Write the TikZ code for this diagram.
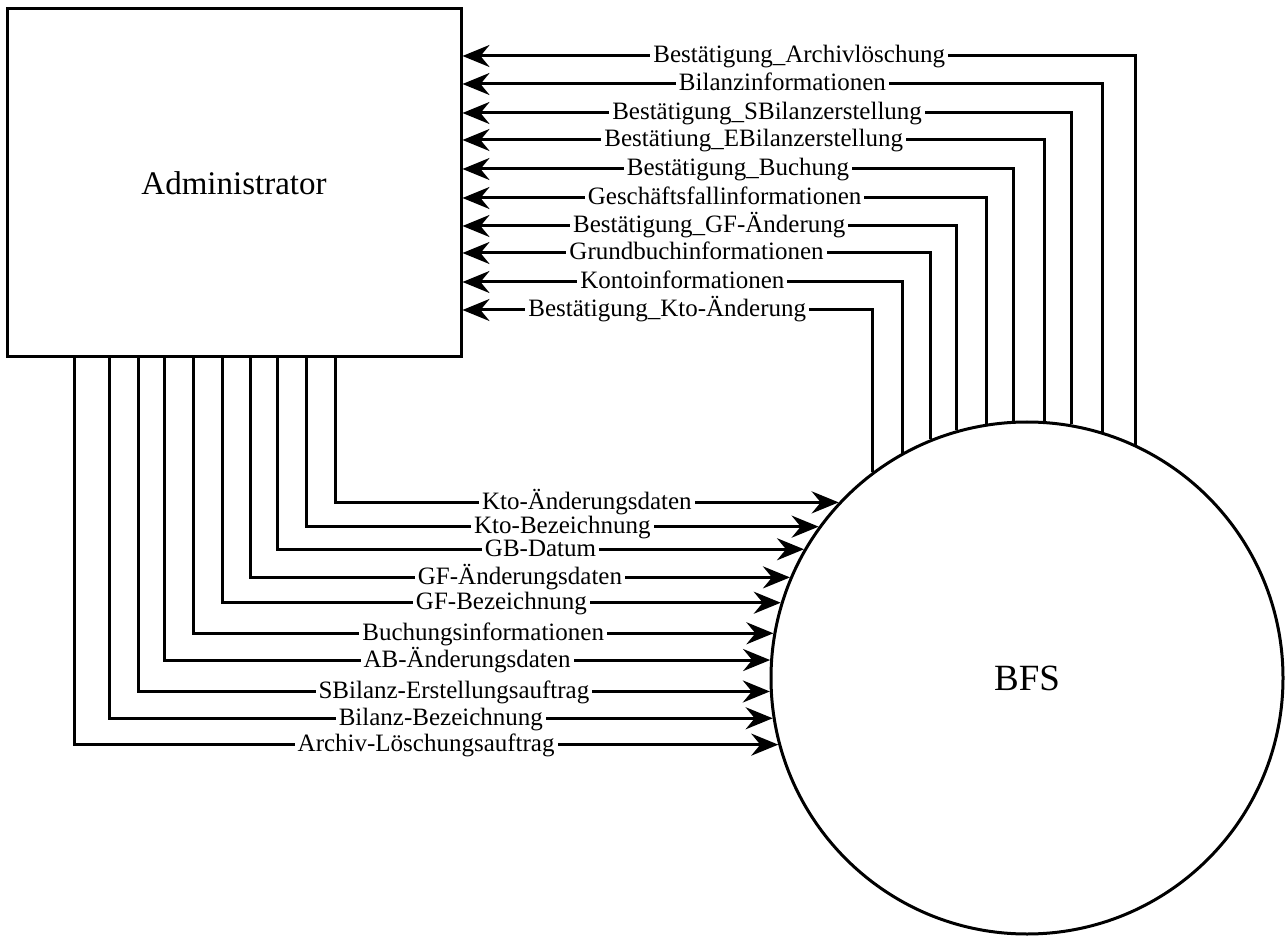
\documentclass[tikz,border=0pt]{standalone}
\usepackage{fontspec}
\setmainfont{Liberation Serif}
\usetikzlibrary{arrows.meta}
\tikzset{
  flow/.style={line width=1.5pt,-{Stealth[length=13.5pt,width=11pt,inset=4.5pt]}},
  lbl/.style={fill=white,inner xsep=1.5pt,inner ysep=0pt,text height=9pt,text depth=2pt,font=\fontsize{12.5}{14}\selectfont}
}
\begin{document}
\begin{tikzpicture}[x=0.5pt,y=-0.5pt]
\useasboundingbox (0,0) rectangle (1286,936);
\node[draw,line width=1.5pt,minimum width=227pt,minimum height=174pt,font=\fontsize{16.5}{20}\selectfont] (adm) at (234,183) {Administrator};
\node[draw,circle,line width=1.5pt,minimum size=256pt,font=\fontsize{18.5}{22}\selectfont] (bfs) at (1027,678) {BFS};

\foreach \x/\y/\t in {1133/56/Bestätigung\_Archivlöschung,
  1099/84/Bilanzinformationen,
  1070/113/Bestätigung\_SBilanzerstellung,
  1042/140/Bestätiung\_EBilanzerstellung,
  1013/169/Bestätigung\_Buchung,
  984/198/Geschäftsfallinformationen,
  956/226/Bestätigung\_GF-Änderung,
  928/253/Grundbuchinformationen,
  900/282/Kontoinformationen,
  871/310/Bestätigung\_Kto-Änderung}
{
\pgfmathsetmacro\ang{acos((\x-1027)/257.5)}
\draw[flow] (bfs.\ang) |- (adm.east |- 0,\y) node[lbl,pos=0.75]{\t};
}

\foreach \x/\y/\t in {335/502.7/Kto-Änderungsdaten,
  306/527.7/Kto-Bezeichnung,
  277/550.7/GB-Datum,
  250/579.3/GF-Änderungsdaten,
  222/606/GF-Bezeichnung,
  193/635/Buchungsinformationen,
  164/663.3/AB-Änderungsdaten,
  138/691.7/SBilanz-Erstellungsauftrag,
  109/719.3/Bilanz-Bezeichnung,
  74/747.7/Archiv-Löschungsauftrag}
{
\pgfmathsetmacro\ang{180-asin((678-\y)/257.5)}
\draw[flow] (adm.south -| \x,0) |- (bfs.\ang) node[lbl,pos=0.75]{\t};
}
\end{tikzpicture}
\end{document}
